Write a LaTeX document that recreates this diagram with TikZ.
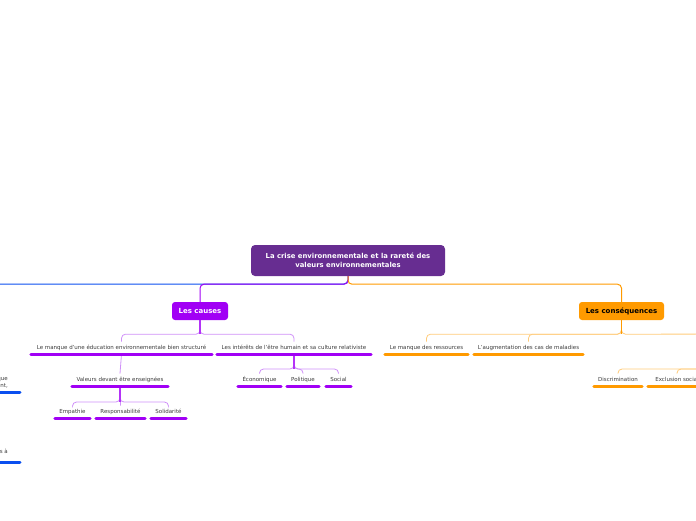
\documentclass[tikz,border=0pt]{standalone}
\usepackage{fontspec}
\setmainfont{DejaVu Sans}
\definecolor{rootc}{HTML}{672D91}
\definecolor{purp}{HTML}{A100F5}
\definecolor{purpl}{HTML}{CF90F8}
\definecolor{orng}{HTML}{FF9A00}
\definecolor{orngl}{HTML}{FFCB7A}
\definecolor{blu}{HTML}{0A4FEF}
\definecolor{txt}{HTML}{3A3A3A}
\begin{document}
\begin{tikzpicture}[x=1pt,y=-1pt,
  rootbox/.style={fill=rootc, rounded corners=4pt, minimum width=194pt, minimum height=31pt,
    text=white, font=\bfseries\fontsize{6.85}{8.8}\selectfont, align=center, inner sep=2pt},
  mainbox/.style={rounded corners=3pt, minimum height=18pt, inner sep=2pt,
    font=\bfseries\fontsize{7}{8}\selectfont},
  topic/.style={anchor=south, minimum height=12pt, inner sep=0pt, text=txt,
    font=\fontsize{5.5}{7}\selectfont},
  lefttxt/.style={anchor=south east, align=right, inner xsep=12pt, inner ysep=4pt, text=txt,
    font=\fontsize{5.5}{7}\selectfont},
  ulp/.style={draw=purp, line width=3pt, line cap=round},
  ulo/.style={draw=orng, line width=3pt, line cap=round},
  ulb/.style={draw=blu, line width=3pt, line cap=round},
  pline/.style={draw=purp, line width=1pt, rounded corners=4pt},
  oline/.style={draw=orng, line width=1pt, rounded corners=4pt},
  bline/.style={draw=blu, line width=1pt, rounded corners=4pt},
  plight/.style={draw=purpl, line width=0.8pt, rounded corners=4pt},
  olight/.style={draw=orngl, line width=0.8pt, rounded corners=4pt},
  pstem/.style={draw=purp!80, line width=1.3pt},
  ostem/.style={draw=orng, line width=1pt}]
\useasboundingbox (0,0) rectangle (696,520);
\clip (0,0) rectangle (696,520);

% main nodes
\node[rootbox] (root) at (348,260.5) {La crise environnementale et la rareté des\\valeurs environnementales};
\node[mainbox, fill=purp, text=white, minimum width=56pt] (causes) at (200,311) {Les causes};
\node[mainbox, fill=orng, text=black, minimum width=85pt] (cons) at (621.5,311) {Les conséquences};

% topics - causes
\node[topic, minimum width=181pt] (c1) at (121.5,354) {Le manque d'une éducation environnementale bien structuré};
\node[topic, minimum width=154pt] (c2) at (294,354) {Les intérêts de l'être humain et sa culture relativiste};
\node[topic, minimum width=96pt] (v) at (120,386) {Valeurs devant être enseignées};
\node[topic, minimum width=35pt] (e1) at (72.5,418) {Empathie};
\node[topic, minimum width=49pt] (e2) at (120.5,418) {Responsabilité};
\node[topic, minimum width=35pt] (e3) at (168.5,418) {Solidarité};
\node[topic, minimum width=43pt] (eco) at (259.5,386) {Économique};
\node[topic, minimum width=32pt] (pol) at (303,386) {Politique};
\node[topic, minimum width=25pt] (soc) at (338.5,386) {Social};

% topics - consequences
\node[topic, minimum width=83pt] (r1) at (426.5,354) {Le manque des ressources};
\node[topic, minimum width=109pt] (r2) at (528.5,354) {L'augmentation des cas de maladies};
\node[topic, minimum width=48pt] (disc) at (618,386) {Discrimination};
\node[topic, minimum width=58pt] (excl) at (677,386) {Exclusion social};

% left, cut-off branch
\node[lefttxt] (l1) at (20,392) {que\\nt,};
\node[lefttxt, inner ysep=8.5pt] (l2) at (20,462) {is à};

% off-picture connection points
\coordinate (offb) at (-60,284);
\coordinate (offc) at (760,334);
\coordinate (offd) at (760,369);

% connectors from root
\draw[bline] (root.south) |- (offb);
\draw[pline] (root.south) -- ++(0,8) -| (causes.north);
\draw[oline] (root.south) -- ++(0,8) -| (cons.north);

% causes
\draw[plight] (causes.south) -- ++(0,14) -| (c1.north);
\draw[plight] (causes.south) -- ++(0,14) -| (c2.north);
\draw[pstem] (causes.south) -- ++(0,14);
\draw[plight] (c1.south) -- (v.north);
\draw[plight] (v.south) -- ++(0,16) -| (e1.north);
\draw[plight] (v.south) -- ++(0,16) -| (e3.north);
\draw[plight] (v.south) -- (e2.north);
\draw[pstem] (v.south) -- ++(0,16);
\draw[plight] (c2.south) -- ++(0,15) -| (eco.north);
\draw[plight] (c2.south) -- ++(0,15) -| (soc.north);
\draw[plight] (c2.south) -- ++(0,15) -| (pol.north);
\draw[pstem] (c2.south) -- ++(0,15);

% consequences
\draw[olight] (cons.south) -- ++(0,14) -| (r1.north);
\draw[olight] (cons.south) -- ++(0,14) -| (r2.north);
\draw[olight] (cons.south) -- ++(0,14) -- (offc);
\draw[ostem] (cons.south) -- ++(0,14);
\draw[olight] (offd) -| (disc.north);
\draw[olight] (offd) -| (excl.north);

% underlines
\foreach \n in {c1,c2,v,e1,e2,e3,eco,pol,soc}
  \draw[ulp] (\n.south west) -- (\n.south east);
\foreach \n in {r1,r2,disc,excl}
  \draw[ulo] (\n.south west) -- (\n.south east);
\foreach \n in {l1,l2}
  \draw[ulb] (\n.south west) -- (\n.south east);
\end{tikzpicture}
\end{document}
